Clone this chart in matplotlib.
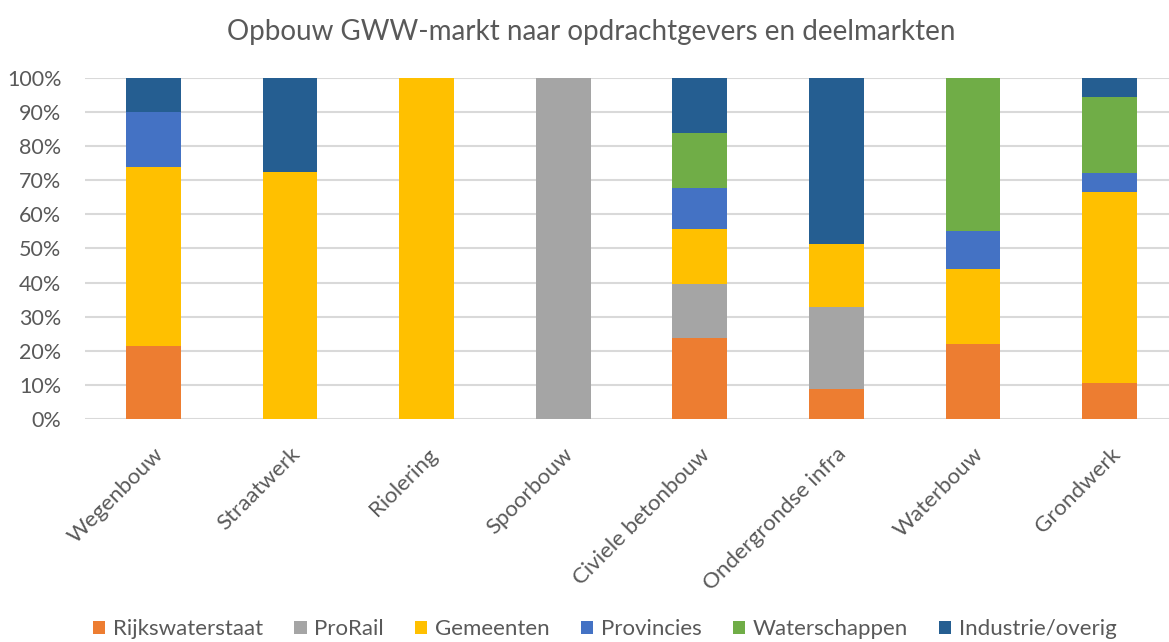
import numpy as np
import matplotlib.pyplot as plt

categories = ["Wegenbouw", "Straatwerk", "Riolering", "Spoorbouw",
              "Civiele betonbouw", "Ondergrondse infra", "Waterbouw", "Grondwerk"]

rijkswaterstaat = [21.5, 0, 0, 0, 23.7, 8.8, 22.0, 10.7]
prorail = [0, 0, 0, 100, 15.9, 24.2, 0, 0]
gemeenten = [52.4, 72.5, 100, 0, 16.1, 18.2, 22.1, 55.8]
provincies = [16.0, 0, 0, 0, 12.1, 0, 11.0, 5.5]
waterschappen = [0, 0, 0, 0, 15.9, 0, 44.9, 22.3]
industrie = [10.1, 27.5, 0, 0, 16.3, 48.8, 0, 5.7]

series = [
    ("Rijkswaterstaat", rijkswaterstaat, "#ED7D31"),
    ("ProRail", prorail, "#A5A5A5"),
    ("Gemeenten", gemeenten, "#FFC000"),
    ("Provincies", provincies, "#4472C4"),
    ("Waterschappen", waterschappen, "#70AD47"),
    ("Industrie/overig", industrie, "#255E91"),
]

plt.rcParams["font.family"] = ["Lato", "DejaVu Sans"]
text_color = "#595959"

fig = plt.figure(figsize=(11.69, 6.42), dpi=100)
ax = fig.add_axes([0.0727, 0.347, 0.935, 0.532])

x = np.arange(len(categories))
bottom = np.zeros(len(categories))
for name, values, color in series:
    values = np.array(values) / 100
    ax.bar(x, values, 0.4, bottom=bottom, color=color, label=name, zorder=3)
    bottom += values

ax.set_xlim(-0.5, 7.5)
ax.set_ylim(0, 1)
ax.set_yticks(np.arange(0, 1.01, 0.1))
ax.set_yticklabels([f"{int(v)}%" for v in range(0, 101, 10)], fontsize=15.5, color=text_color)
ax.set_xticks(x)
ax.set_xticklabels(categories, rotation=45, ha="right", rotation_mode="anchor",
                   fontsize=16, color=text_color)
ax.tick_params(axis="y", length=0, pad=17)
ax.tick_params(axis="x", length=0, pad=18)
ax.grid(axis="y", color="#D9D9D9", linewidth=1.5, zorder=0)
for s in ax.spines.values():
    s.set_visible(False)

fig.text(0.506, 0.95, "Opbouw GWW-markt naar opdrachtgevers en deelmarkten",
         ha="center", va="center", fontsize=20, color=text_color)

fig.legend(loc="center", bbox_to_anchor=(0.5175, 0.02), ncol=6, frameon=False,
           fontsize=16, handlelength=0.55, handleheight=0.55, handletextpad=0.35,
           columnspacing=1.4, labelcolor=text_color)

fig.savefig("out.png", dpi=100)
